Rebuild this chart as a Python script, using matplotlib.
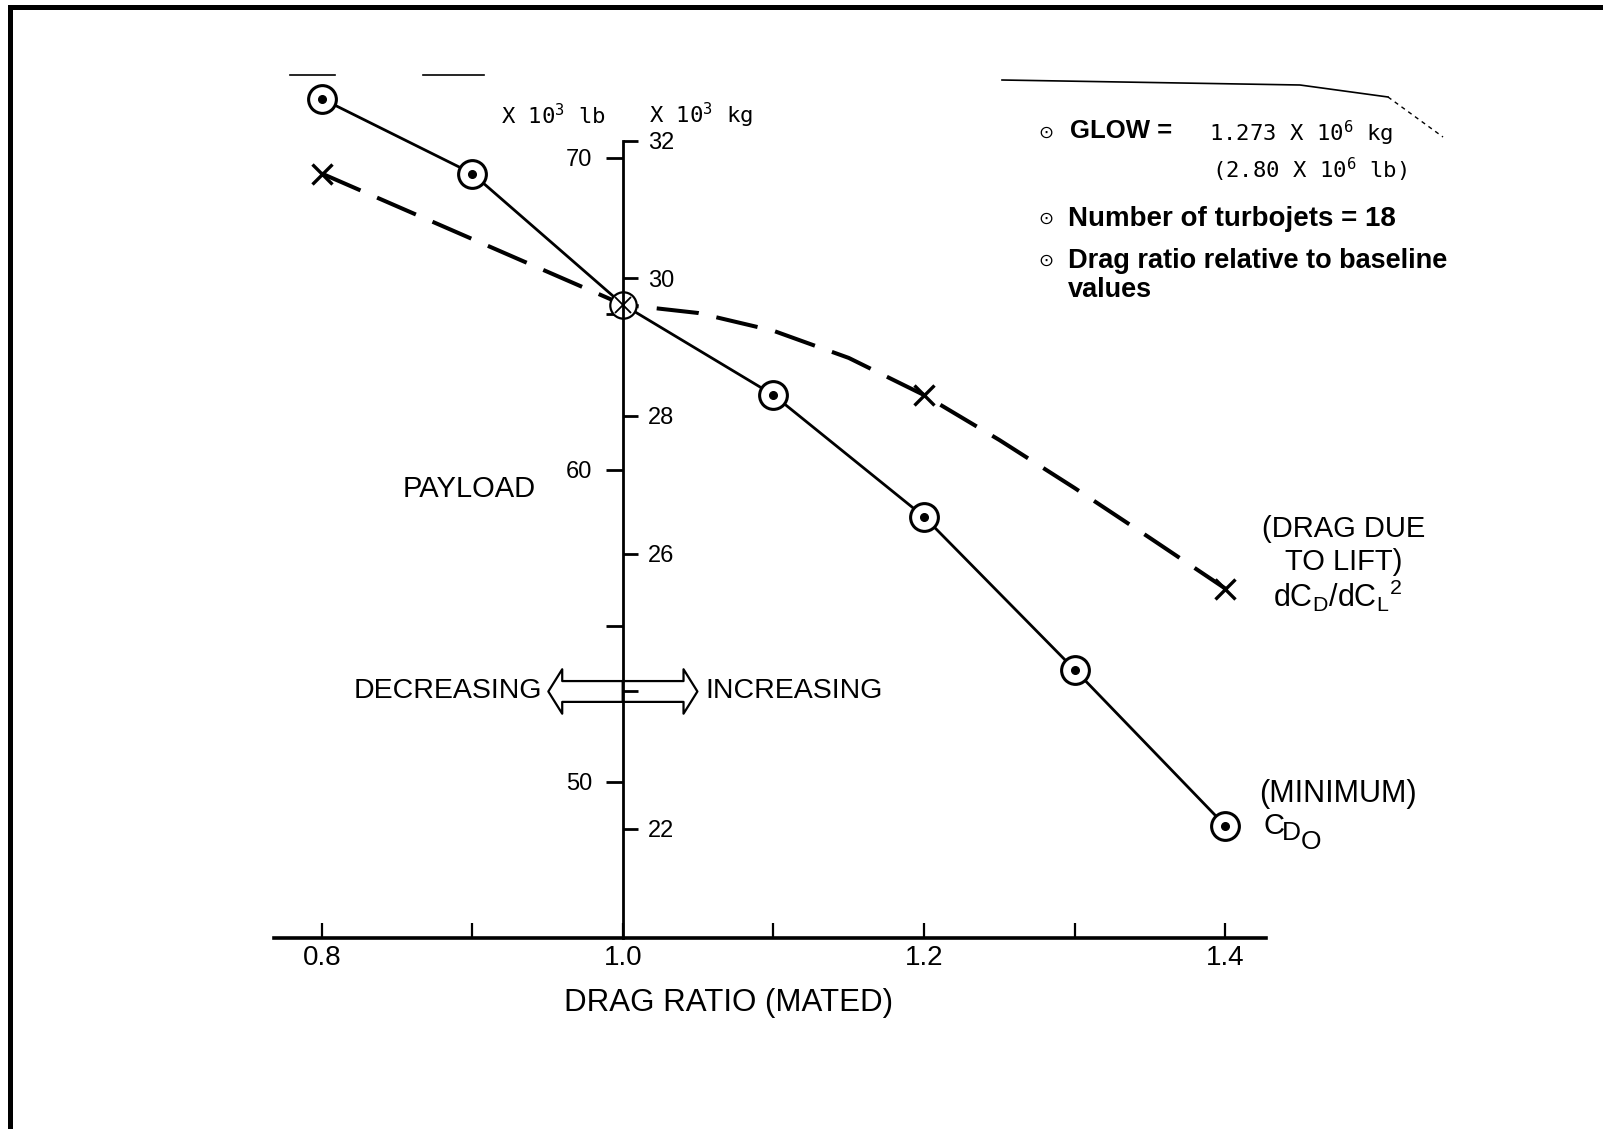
import matplotlib
matplotlib.use('Agg')
import matplotlib.pyplot as plt
from matplotlib.patches import FancyArrowPatch
from matplotlib.lines import Line2D

plt.rcParams['font.family'] = ['Liberation Sans', 'DejaVu Sans']
plt.rcParams['mathtext.default'] = 'regular'

# drag ratio (mated) relative to baseline, marked cases
drag_ratio = [0.8, 0.9, 1.0, 1.1, 1.2, 1.3, 1.4]
# payload, 10^3 lb, when minimum C_D0 is varied
payload_cd0 = [71.9, 69.5, 65.3, 62.4, 58.5, 53.6, 48.6]

# payload, 10^3 lb, when drag due to lift is varied (marked cases)
lift_ratio = [0.8, 1.0, 1.2, 1.4]
payload_lift = [69.5, 65.3, 62.4, 56.2]
# faired dashed curve through the drag-due-to-lift cases
lift_curve_ratio = [0.8, 0.9, 1.0, 1.05, 1.1, 1.15, 1.2, 1.25, 1.3, 1.35, 1.4]
lift_curve_payload = [69.5, 67.4, 65.3, 65.03, 64.46, 63.59, 62.4, 60.96, 59.42, 57.82, 56.2]

x_ticks = [0.8, 0.9, 1.0, 1.1, 1.2, 1.3, 1.4]
x_tick_labels = ['0.8', '', '1.0', '', '1.2', '', '1.4']
lb_ticks = [50, 55, 60, 65, 70]
lb_tick_labels = ['50', '', '60', '', '70']
kg_ticks = [22, 24, 26, 28, 30, 32]
kg_tick_labels = ['22', '', '26', '28', '30', '32']

LB_PER_KG = 2.20462
BASELINE = 1.0
NARROW = ['Liberation Sans Narrow', 'Liberation Sans', 'DejaVu Sans']
MONO = ['DejaVu Sans Mono']

fig = plt.figure(figsize=(16.03, 11.29), dpi=100)
ax = fig.add_axes([0.1709, 0.1692, 0.6188, 0.7777])
ax.set_xlim(0.7683, 1.427)
ax.set_ylim(45, 73.14)

# --- axes: payload scale drawn on a vertical line at the baseline ratio ---
ax.spines['top'].set_visible(False)
ax.spines['right'].set_visible(False)
ax.spines['left'].set_position(('data', BASELINE))
ax.spines['left'].set_bounds(45, 32 * LB_PER_KG)
ax.spines['left'].set_linewidth(2)
ax.spines['bottom'].set_linewidth(2.6)

ax.set_xticks(x_ticks, x_tick_labels)
ax.tick_params(axis='x', direction='in', length=11, width=1.6, pad=5, labelsize=20)
for lbl in ax.get_xticklabels():
    lbl.set_family(NARROW)

ax.set_yticks(lb_ticks, lb_tick_labels)
ax.tick_params(axis='y', direction='out', length=12, width=2, pad=10, labelsize=17)

sec = ax.secondary_yaxis(BASELINE, functions=(lambda v: v / LB_PER_KG, lambda v: v * LB_PER_KG),
                         transform=ax.transData)
for sp in sec.spines.values():
    sp.set_visible(False)
sec.set_yticks(kg_ticks, kg_tick_labels)
sec.tick_params(direction='out', length=11, width=2, pad=7, labelsize=17)

ax.set_xlabel('DRAG RATIO (MATED)', fontsize=22.5, family=NARROW)
ax.xaxis.set_label_coords(1.07, 43.4, transform=ax.transData)
ax.set_ylabel('PAYLOAD', rotation=0, fontsize=21, ha='center', va='center')
ax.yaxis.set_label_coords(0.898, 59.4, transform=ax.transData)

# --- curves ---
ax.plot(lift_curve_ratio, lift_curve_payload, color='black', lw=2.9,
        dashes=(10.5, 4.5), zorder=2)
ax.plot(drag_ratio, payload_cd0, color='black', lw=2.0, zorder=2)

b = drag_ratio.index(BASELINE)
cd0_x = [x for i, x in enumerate(drag_ratio) if i != b]
cd0_y = [y for i, y in enumerate(payload_cd0) if i != b]
ax.plot(cd0_x, cd0_y, 'o', ms=20, mfc='white', mec='black', mew=2.2, zorder=3)
ax.plot(cd0_x, cd0_y, 'o', ms=5.5, color='black', zorder=3)

lb = lift_ratio.index(BASELINE)
lift_x = [x for i, x in enumerate(lift_ratio) if i != lb]
lift_y = [y for i, y in enumerate(payload_lift) if i != lb]
ax.plot(lift_x, lift_y, 'x', ms=15, mew=2.4, color='black', zorder=3)

# baseline point: circle with a cross, under the scale line
ax.plot([drag_ratio[b]], [payload_cd0[b]], 'o', ms=19, mfc='white', mec='black',
        mew=1.6, zorder=2.4)
ax.plot([drag_ratio[b]], [payload_cd0[b]], 'x', ms=12, mew=1.3, color='black', zorder=2.4)

# --- decreasing / increasing arrow ---
arrow_y = 52.9
for end in (BASELINE - 0.0495, BASELINE + 0.0495):
    ax.add_patch(FancyArrowPatch((BASELINE, arrow_y), (end, arrow_y),
                                 arrowstyle='simple,head_length=10,head_width=32,tail_width=15',
                                 mutation_scale=1, fc='none', ec='black', lw=1.6,
                                 shrinkA=0, shrinkB=0, zorder=2))
ax.text(0.9462, arrow_y, 'DECREASING', fontsize=20.5, ha='right', va='center')
ax.text(1.0545, arrow_y, 'INCREASING', fontsize=20.5, ha='left', va='center')

# --- units over the scale ---
ax.text(0.9535, 71.36, 'X 10$^3$ lb', fontsize=16, family=MONO, ha='center', va='center')
ax.text(1.0518, 71.36, 'X 10$^3$ kg', fontsize=16, family=MONO, ha='center', va='center')

# --- notes ---
for ny in (70.80, 68.04, 66.67):
    ax.text(1.281, ny, '\u2299', fontsize=13, ha='center', va='center')
ax.text(1.2968, 70.87, 'GLOW =', fontsize=18.5, fontweight='bold', ha='left', va='center')
ax.text(1.389, 70.80, '1.273 X 10$^6$ kg', fontsize=16, family=MONO, ha='left', va='center')
ax.text(1.391, 69.62, '(2.80 X 10$^6$ lb)', fontsize=16, family=MONO, ha='left', va='center')
ax.text(1.2955, 68.04, 'Number of turbojets = 18', fontsize=20, fontweight='bold',
        ha='left', va='center')
ax.text(1.2955, 67.12, 'Drag ratio relative to baseline\nvalues', fontsize=19.5,
        fontweight='bold', ha='left', va='top', linespacing=1.15)

# --- curve labels ---
ax.text(1.4788, 57.58, '(DRAG DUE\nTO LIFT)', fontsize=21, ha='center', va='center',
        multialignment='center', linespacing=1.2)
ax.text(1.4316, 55.96, 'dC$_D$/dC$_L$$^2$', fontsize=22, ha='left', va='center')
ax.text(1.4226, 49.6, '(MINIMUM)', fontsize=22, ha='left', va='center')
# C with a stepped-down D and O subscript
cdo_anchor = (1.4254, 48.6)
for s, dx, dy in (('C', 0, 0), ('D', 13, -5), ('O', 27, -12)):
    ax.annotate(s, cdo_anchor, xytext=(dx, dy), textcoords='offset points',
                fontsize=21 if s == 'C' else 19, ha='left', va='center')

# --- page frame and fold marks ---
fw, fh = 1603.0, 1129.0
fig.add_artist(Line2D([10 / fw, 10 / fw], [0, 1 - 7 / fh], transform=fig.transFigure,
                      lw=3.6, color='black', solid_capstyle='projecting'))
fig.add_artist(Line2D([10 / fw, 1], [1 - 7 / fh, 1 - 7 / fh], transform=fig.transFigure,
                      lw=3.6, color='black', solid_capstyle='projecting'))
for xs, ys in (([290, 335], [75, 75]), ([423, 484], [75, 75]),
               ([1002, 1300, 1388], [80, 85, 97])):
    fig.add_artist(Line2D([v / fw for v in xs], [1 - v / fh for v in ys],
                          transform=fig.transFigure, lw=1.2, color='black'))
fig.add_artist(Line2D([1388 / fw, 1443 / fw], [1 - 97 / fh, 1 - 137 / fh],
                      transform=fig.transFigure, lw=1.0, color='black', ls=(0, (3, 3))))

fig.savefig('out.png', dpi=100)
